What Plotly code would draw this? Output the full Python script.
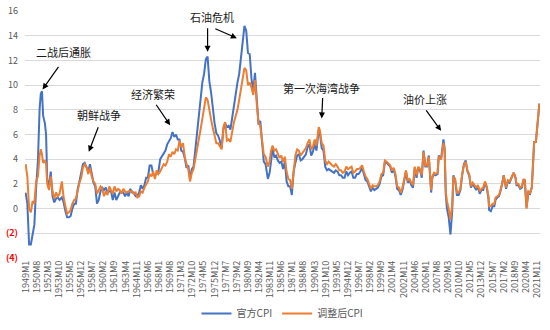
import plotly.graph_objects as go

# ---------------- data ----------------
periods = [
    "1949M1","1949M4","1949M7","1949M10","1950M1","1950M4","1950M7","1950M10",
    "1951M1","1951M3","1951M5","1951M7","1951M10","1951M12",
    "1952M2","1952M5","1952M8","1952M11","1953M2","1953M5","1953M8","1953M11",
    "1954M3","1954M6","1954M9","1954M12","1955M3","1955M6","1955M9","1955M12",
    "1956M3","1956M6","1956M9","1956M12","1957M3","1957M6","1957M9","1957M12",
    "1958M3","1958M6","1958M9","1958M12","1959M3","1959M6","1959M9","1959M12",
    "1960M3","1960M6","1960M9","1960M12","1961M3","1961M6","1961M9","1961M12",
    "1962M3","1962M6","1962M9","1962M12","1963M3","1963M6","1963M9","1963M12",
    "1964M3","1964M6","1964M9","1964M12","1965M3","1965M6","1965M9","1965M12",
    "1966M3","1966M6","1966M9","1966M12","1967M3","1967M6","1967M9","1967M12",
    "1968M3","1968M6","1968M9","1968M12","1969M3","1969M6","1969M9","1969M12",
    "1970M3","1970M6","1970M9","1970M12","1971M3","1971M6","1971M9","1971M12",
    "1972M3","1972M6","1972M9","1972M12","1973M3","1973M6","1973M9","1973M12",
    "1974M3","1974M6","1974M9","1974M12","1975M3","1975M6","1975M9","1975M12",
    "1976M3","1976M6","1976M9","1976M12","1977M3","1977M6","1977M9","1977M12",
    "1978M3","1978M6","1978M9","1978M12","1979M3","1979M6","1979M9","1979M12",
    "1980M3","1980M6","1980M9","1980M12","1981M3","1981M6","1981M9","1981M12",
    "1982M3","1982M6","1982M9","1982M12","1983M3","1983M7","1983M10","1983M12",
    "1984M3","1984M6","1984M9","1984M12","1985M3","1985M6","1985M9","1985M12",
    "1986M3","1986M6","1986M9","1986M12","1987M3","1987M6","1987M9","1987M12",
    "1988M3","1988M6","1988M9","1988M12","1989M3","1989M6","1989M9","1989M12",
    "1990M3","1990M6","1990M10","1990M12","1991M3","1991M6","1991M9","1991M12",
    "1992M3","1992M6","1992M9","1992M12","1993M3","1993M6","1993M9","1993M12",
    "1994M3","1994M6","1994M9","1994M12","1995M3","1995M6","1995M9","1995M12",
    "1996M3","1996M6","1996M9","1996M12","1997M3","1997M6","1997M9","1997M12",
    "1998M3","1998M6","1998M9","1998M12","1999M3","1999M6","1999M9","1999M12",
    "2000M3","2000M6","2000M9","2000M12","2001M3","2001M6","2001M9","2001M12",
    "2002M3","2002M6","2002M9","2002M12","2003M3","2003M6","2003M9","2003M12",
    "2004M3","2004M6","2004M9","2004M12","2005M3","2005M6","2005M9","2005M12",
    "2006M3","2006M6","2006M9","2006M10","2006M12","2007M3","2007M6","2007M9","2007M11",
    "2008M3","2008M7","2008M9","2008M11","2009M1","2009M4","2009M7","2009M10","2009M12",
    "2010M3","2010M6","2010M9","2010M12","2011M3","2011M6","2011M9","2011M12",
    "2012M3","2012M6","2012M9","2012M12","2013M3","2013M6","2013M9","2013M12",
    "2014M3","2014M6","2014M9","2014M12","2015M1","2015M4","2015M7","2015M10","2015M12",
    "2016M3","2016M6","2016M9","2016M12","2017M2","2017M6","2017M9","2017M12",
    "2018M3","2018M7","2018M10","2018M12","2019M3","2019M6","2019M9","2019M12",
    "2020M2","2020M5","2020M8","2020M11","2021M2","2021M4","2021M6","2021M9","2021M11",
    "2022M1","2022M3",
]

official_cpi = [
    1.3, 0.4, -2.9, -2.9, -2.1, -1.3, 1.7, 3.8,
    8.1, 9.3, 9.5, 7.5, 6.9, 6.0,
    2.3, 1.9, 3.0, 1.0, 0.5, 0.8, 0.9, 0.7,
    0.9, 0.5, -0.2, -0.7, -0.7, -0.6, 0.0, 0.4,
    0.4, 1.6, 2.2, 2.9, 3.6, 3.7, 3.3, 3.0,
    3.6, 2.8, 2.1, 1.8, 0.4, 0.7, 1.4, 1.7,
    1.5, 1.7, 1.3, 1.4, 1.4, 0.7, 1.3, 0.7,
    1.0, 1.3, 1.3, 1.3, 1.0, 1.3, 1.0, 1.6,
    1.3, 1.3, 1.0, 1.0, 1.3, 1.9, 1.6, 1.9,
    2.5, 2.5, 3.5, 3.5, 2.8, 2.7, 2.8, 3.0,
    4.0, 4.2, 4.4, 4.7, 5.2, 5.5, 5.7, 6.2,
    5.8, 6.0, 5.6, 5.6, 4.7, 4.6, 4.1, 3.3,
    3.5, 2.4, 3.2, 3.4, 4.7, 6.0, 7.4, 8.7,
    10.2, 10.9, 12.1, 12.3, 10.3, 9.4, 7.9, 6.9,
    6.1, 5.9, 5.5, 4.9, 6.4, 6.9, 6.6, 6.7,
    6.4, 7.4, 8.3, 9.0, 10.2, 10.9, 12.2, 13.3,
    14.8, 14.4, 12.6, 12.5, 10.5, 9.6, 11.0, 8.9,
    6.8, 7.1, 5.0, 3.8, 3.6, 2.4, 2.9, 3.8,
    4.8, 4.2, 4.3, 3.9, 3.7, 3.8, 3.2, 3.8,
    2.2, 1.8, 1.8, 1.1, 3.0, 3.7, 4.3, 4.4,
    3.9, 4.0, 4.2, 4.4, 5.0, 5.2, 4.3, 4.6,
    5.2, 4.7, 6.4, 6.1, 4.9, 4.7, 3.4, 3.1,
    3.2, 3.1, 3.0, 2.9, 3.1, 3.0, 2.7, 2.7,
    2.5, 2.5, 3.0, 2.7, 2.9, 3.0, 2.5, 2.5,
    2.8, 2.8, 3.0, 3.3, 2.8, 2.3, 2.2, 1.7,
    1.4, 1.7, 1.5, 1.6, 1.7, 2.0, 2.6, 2.7,
    3.8, 3.7, 3.5, 3.4, 2.9, 3.2, 2.6, 1.6,
    1.5, 1.1, 1.5, 2.4, 3.0, 2.1, 2.3, 1.9,
    1.7, 3.3, 2.5, 3.3, 3.1, 2.5, 4.7, 3.4,
    3.4, 4.3, 2.1, 1.3, 2.5, 2.8, 2.7, 2.8, 4.3,
    4.0, 5.6, 4.9, 1.1, 0.0, -0.7, -2.1, -0.2, 2.7,
    2.3, 1.1, 1.1, 1.5, 2.7, 3.6, 3.9, 3.0,
    2.7, 1.7, 2.0, 1.7, 1.5, 1.8, 1.2, 1.5,
    1.5, 2.1, 1.7, 0.8, -0.1, -0.2, 0.2, 0.2, 0.7,
    0.9, 1.0, 1.5, 2.1, 2.7, 1.6, 2.2, 2.1,
    2.4, 2.9, 2.5, 1.9, 1.9, 1.6, 1.7, 2.3,
    2.3, 0.1, 1.3, 1.2, 1.7, 4.2, 5.4, 5.4, 6.8,
    7.5, 8.5,
]

adjusted_cpi = [
    3.6, 2.6, 0.0, -0.3, 0.6, 0.4, 2.2, 2.6,
    4.3, 4.8, 4.4, 3.7, 3.9, 3.6,
    2.0, 1.5, 2.6, 1.4, 0.8, 1.3, 1.0, 1.2,
    2.2, 0.9, 0.2, -0.4, -0.3, -0.1, 0.4, 0.7,
    0.8, 1.5, 2.1, 2.5, 3.3, 3.6, 3.4, 2.8,
    3.3, 2.6, 2.2, 2.0, 1.2, 1.5, 1.8, 1.6,
    1.0, 1.4, 1.1, 1.8, 1.5, 1.2, 1.8, 1.4,
    1.6, 1.5, 1.2, 1.6, 1.4, 1.3, 1.4, 1.4,
    1.4, 1.2, 1.3, 0.9, 1.0, 1.4, 1.3, 1.7,
    1.9, 2.2, 2.8, 2.6, 3.0, 2.4, 3.1, 2.8,
    3.0, 3.3, 3.6, 3.5, 3.8, 4.4, 4.2, 4.6,
    4.4, 4.8, 4.7, 5.5, 5.0, 5.3, 4.2, 3.6,
    3.2, 2.2, 2.9, 3.2, 3.9, 4.9, 5.6, 6.4,
    7.4, 8.0, 9.0, 8.8, 7.9, 7.2, 6.5, 6.0,
    5.3, 5.3, 5.0, 4.8, 6.6, 7.0, 5.5, 5.6,
    5.4, 6.3, 7.0, 7.5, 8.0, 8.8, 9.8, 10.6,
    11.4, 11.2, 10.0, 10.2, 9.8, 9.2, 10.4, 8.5,
    7.0, 6.7, 5.5, 4.4, 4.2, 3.4, 3.8, 4.6,
    5.1, 4.7, 4.8, 4.4, 4.1, 4.3, 3.8, 4.2,
    3.0, 2.4, 2.3, 1.6, 3.3, 4.3, 4.8, 4.7,
    4.3, 4.5, 4.6, 4.9, 5.3, 5.6, 4.8, 5.0,
    5.6, 5.1, 6.6, 6.3, 5.3, 5.1, 3.9, 3.6,
    3.8, 3.6, 3.5, 3.4, 3.6, 3.4, 3.1, 3.1,
    2.9, 3.0, 3.4, 3.2, 3.3, 3.4, 2.9, 3.0,
    3.2, 3.2, 3.3, 3.5, 3.0, 2.6, 2.4, 1.9,
    1.6, 1.9, 1.8, 1.8, 1.9, 2.2, 2.8, 2.9,
    3.9, 3.8, 3.6, 3.5, 3.1, 3.3, 2.8, 1.8,
    1.7, 1.3, 1.7, 2.5, 3.1, 2.3, 2.4, 2.1,
    1.9, 3.4, 2.7, 3.4, 3.2, 2.7, 4.6, 3.5,
    3.5, 4.2, 2.2, 1.5, 2.6, 2.9, 2.8, 2.9, 4.2,
    4.0, 5.3, 4.7, 1.4, 0.6, 0.0, -0.9, 0.3, 2.6,
    2.4, 1.3, 1.3, 1.6, 2.8, 3.5, 3.8, 3.1,
    2.8, 1.8, 2.1, 1.9, 1.7, 1.9, 1.4, 1.6,
    1.7, 2.2, 1.8, 1.0, 0.2, 0.2, 0.4, 0.4, 0.9,
    1.0, 1.1, 1.6, 2.1, 2.7, 1.7, 2.3, 2.2,
    2.5, 2.9, 2.6, 2.0, 2.0, 1.7, 1.8, 2.4,
    2.3, 0.0, 1.4, 1.3, 1.7, 4.2, 5.4, 5.4, 6.8,
    7.5, 8.5,
]

tick_labels = [
    "1949M1","1950M8","1952M3","1953M10","1955M5","1956M12","1958M7","1960M2",
    "1961M9","1963M4","1964M11","1966M6","1968M1","1969M8","1971M3","1972M10",
    "1974M5","1975M12","1977M7","1979M2","1980M9","1982M4","1983M11","1985M6",
    "1987M1","1988M8","1990M3","1991M10","1993M5","1994M12","1996M7","1998M2",
    "1999M9","2001M4","2002M11","2004M6","2006M1","2007M8","2009M3","2010M10",
    "2012M5","2013M12","2015M7","2017M2","2018M9","2020M4","2021M11",
]

y_ticks = [-4, -2, 0, 2, 4, 6, 8, 10, 12, 14, 16]

series_names = ["官方CPI", "调整后CPI"]

# annotations: (text, text_x_month_index, text_value)
events = [
    ("二战后通胀", 64, 12.7),
    ("朝鲜战争", 125, 7.6),
    ("经济繁荣", 217, 9.3),
    ("石油危机", 318, 15.5),
    ("第一次海湾战争", 506, 9.75),
    ("油价上涨", 682, 8.9),
]
# arrows: (head_month_index, head_value, tail dx px, tail dy px)
arrows = [
    (29, 9.65, 17, -24),
    (108, 4.6, 10, -26),
    (247, 6.75, -15, -22),
    (311, 12.7, 0, -25),
    (361, 13.8, -23, -10),
    (506, 7.3, 1, -22),
    (710, 6.3, -16, -22),
]


def month_index(p):
    y, m = p.split("M")
    return (int(y) - 1949) * 12 + int(m) - 1


x_vals = [month_index(p) for p in periods]

BLUE = "#4472C4"
ORANGE = "#ED7D31"
FONT = "Noto Sans CJK SC, Noto Sans, sans-serif"

fig = go.Figure()
fig.add_trace(go.Scatter(x=x_vals, y=official_cpi, mode="lines", name=series_names[0],
                         line=dict(color=BLUE, width=2)))
fig.add_trace(go.Scatter(x=x_vals, y=adjusted_cpi, mode="lines", name=series_names[1],
                         line=dict(color=ORANGE, width=2)))

y_text = []
for v in y_ticks:
    if v < 0:
        y_text.append('<b><span style="color:#FF0000">(%d)</span></b>' % abs(v))
    else:
        y_text.append(str(v))

for text, xi, yv in events:
    fig.add_annotation(x=xi, y=yv, text=text, showarrow=False,
                       font=dict(family=FONT, size=11, color="#1a1a1a"))
for hx, hy, dx, dy in arrows:
    fig.add_annotation(x=hx, y=hy, text="", showarrow=True, ax=dx, ay=dy,
                       arrowhead=2, arrowsize=1, arrowwidth=1.2, arrowcolor="#000000")

fig.update_layout(
    width=550, height=330,
    margin=dict(l=25, r=10, t=11, b=72, autoexpand=False),
    paper_bgcolor="white", plot_bgcolor="white",
    font=dict(family=FONT, size=9, color="#595959"),
    showlegend=True,
    legend=dict(orientation="h", x=0.5, xanchor="center", y=-0.225, yanchor="middle",
                font=dict(family=FONT, size=10, color="#595959"),
                itemwidth=30, tracegroupgap=0),
    xaxis=dict(range=[-1, 879], tickmode="array", automargin=False,
               tickvals=[month_index(t) for t in tick_labels], ticktext=tick_labels,
               tickangle=-90, showgrid=False, zeroline=False, showline=False,
               ticks="", tickfont=dict(size=9, color="#595959")),
    yaxis=dict(range=[-4, 16], tickmode="array", tickvals=y_ticks, ticktext=y_text,
               automargin=False,
               showgrid=True, gridcolor="#D9D9D9", gridwidth=1, zeroline=False,
               showline=False, ticks="", tickfont=dict(size=9, color="#595959"),
               ticklabelstandoff=6),
)

fig.write_html("out.html")
